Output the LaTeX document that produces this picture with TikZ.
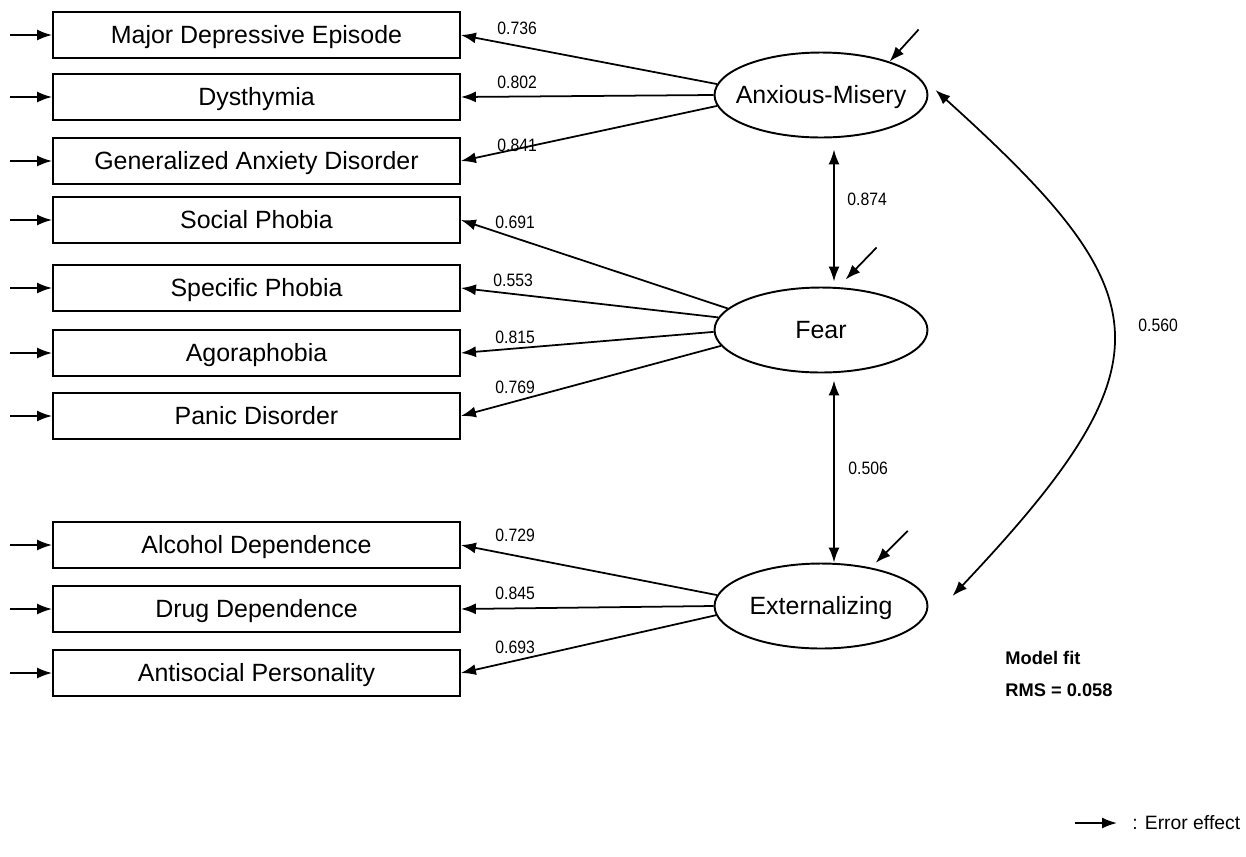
\documentclass[tikz,border=0pt]{standalone}
\usepackage{fontspec}
\setmainfont{Liberation Sans}
\newfontfamily\numfont[FakeStretch=0.88]{Liberation Sans}
\usepackage{tikz}
\usetikzlibrary{arrows.meta,shapes.geometric}
\tikzset{
  obs/.style={draw,line width=1.1pt,minimum width=8.14cm,minimum height=0.92cm,inner sep=0pt,
    text height=10.2pt,text depth=0pt,font=\fontsize{14.2}{16}\selectfont},
  lat/.style={draw,ellipse,line width=1.1pt,minimum width=4.26cm,minimum height=1.70cm,inner sep=0pt,
    label={[font=\fontsize{14.2}{16}\selectfont,text height=10.2pt,text depth=0pt]center:#1}},
  arr/.style={line width=1pt,-{Latex[length=3mm,width=2.2mm]}},
  dbl/.style={line width=1pt,{Latex[length=3mm,width=2.2mm]}-{Latex[length=3mm,width=2.2mm]}},
  est/.style={font=\numfont\fontsize{10.2}{11}\selectfont,anchor=west,inner sep=0pt},
  fitnote/.style={font=\fontsize{10.4}{12}\selectfont\bfseries,anchor=west,inner sep=0pt},
}

\begin{document}
\begin{tikzpicture}[x=0.02cm,y=-0.02cm]
\useasboundingbox (0,0) rectangle (1246,856);
%% observed diagnoses
\node[obs] (mde) at (256.5,35) {Major Depressive Episode};
\node[obs] (dys) at (256.5,97) {Dysthymia};
\node[obs] (gad) at (256.5,161) {Generalized Anxiety Disorder};
\node[obs] (soc) at (256.5,220) {Social Phobia};
\node[obs] (spe) at (256.5,288) {Specific Phobia};
\node[obs] (ago) at (256.5,353) {Agoraphobia};
\node[obs] (pan) at (256.5,416) {Panic Disorder};
\node[obs] (alc) at (256.5,545) {Alcohol Dependence};
\node[obs] (drg) at (256.5,609) {Drug Dependence};
\node[obs] (asp) at (256.5,673) {Antisocial Personality};
%% latent factors
\node[lat=Anxious-Misery] (am) at (821,95) {};
\node[lat=Fear] (fear) at (821,330) {};
\node[lat=Externalizing] (ext) at (821,606) {};
%% error effects
\foreach \b in {mde,dys,gad,soc,spe,ago,pan,alc,drg,asp}
  \draw[arr] ([shift={(-42,0)}]\b.west) -- (\b.west);
\draw[arr] ([shift={(29,-32)}]am.26) -- (am.26);
\draw[arr] ([shift={(33,-40)}]fear.62) -- ([shift={(2,-8)}]fear.62);
\draw[arr] ([shift={(40,-36)}]ext.40) -- ([shift={(8,-4)}]ext.40);
%% loadings
\draw[arr] (am.174) -- (mde.east);
\draw[arr] (am.180) -- (dys.east);
\draw[arr] (am.186) -- (gad.east);
\draw[arr] (fear.167) -- (soc.east);
\draw[arr] (fear.173.5) -- (spe.east);
\draw[arr] (fear.181.6) -- (ago.east);
\draw[arr] (fear.189) -- (pan.east);
\draw[arr] (ext.174.7) -- (alc.east);
\draw[arr] (ext.180) -- (drg.east);
\draw[arr] (ext.185.8) -- (asp.east);
\node[est] (l736) at (497,28) {0.736};
\node[est] (l802) at (497,82) {0.802};
\node[est] (l841) at (497,145) {0.841};
\node[est] (l691) at (495,222) {0.691};
\node[est] (l553) at (493,280) {0.553};
\node[est] (l815) at (495,337) {0.815};
\node[est] (l769) at (495,387) {0.769};
\node[est] (l729) at (495,535) {0.729};
\node[est] (l845) at (495,593) {0.845};
\node[est] (l693) at (495,647) {0.693};
%% correlations
\draw[dbl] ([shift={(13,11)}]am.south) -- ([shift={(13,-5)}]fear.north);
\draw[dbl] ([shift={(13,7)}]fear.south) -- ([shift={(13,0)}]ext.north);
\draw[dbl] ([shift={(7,-5)}]am.east) .. controls +(226,204) and +(223,-236) .. ([shift={(24,-10)}]ext.east);
\node[est] (r874) at (847,199) {0.874};
\node[est] (r506) at (848,468) {0.506};
\node[est] (r560) at (1138,325) {0.560};
%% fit and legend
\node[fitnote] (mfit) at (1005,658) {Model fit};
\node[fitnote] (rms) at (1005,690) {RMS = 0.058};
\coordinate (lgs) at (1075,823);
\node[anchor=west,inner sep=0pt,font=\fontsize{11}{12}\selectfont] (lgd) at (1132,823) {: Error effect};
\draw[arr] (lgs) -- ([shift={(-15,0)}]lgd.west);
\end{tikzpicture}
\end{document}
